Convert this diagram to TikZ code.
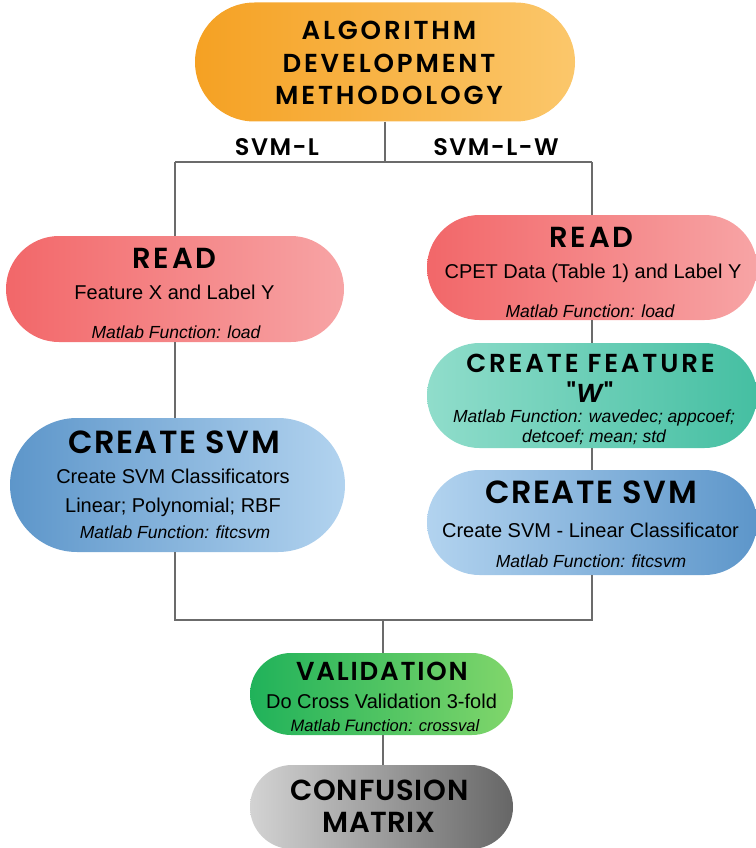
\documentclass[tikz,border=0pt]{standalone}
\usepackage{fontspec}
\setmainfont{Liberation Sans}
\newfontfamily\headfont{Poppins SemiBold}
\usetikzlibrary{shapes.misc}

\definecolor{linegray}{HTML}{6B6B6B}
\definecolor{orangeA}{HTML}{F5A123}
\definecolor{orangeB}{HTML}{FBC76B}
\definecolor{redA}{HTML}{F26769}
\definecolor{redB}{HTML}{F7A4A5}
\definecolor{tealA}{HTML}{90DDCB}
\definecolor{tealB}{HTML}{45BFA2}
\definecolor{blueA}{HTML}{5D96CA}
\definecolor{blueB}{HTML}{B2D3EF}
\definecolor{greenA}{HTML}{20B25A}
\definecolor{greenB}{HTML}{80D66B}
\definecolor{grayA}{HTML}{D3D3D3}
\definecolor{grayB}{HTML}{666666}

\tikzset{
  pill/.style={rounded rectangle,inner sep=0pt,draw=none},
  hd/.style 2 args={anchor=base,font=\headfont\fontsize{#1}{#1}\selectfont\addfontfeature{LetterSpace=#2}},
  tx/.style={anchor=base,font=\fontsize{20}{24}\selectfont},
  fn/.style={anchor=base,font=\itshape\fontsize{#1}{#1}\selectfont},
  fn/.default=17.5,
  wire/.style={draw=linegray,line width=1.1pt}
}

\begin{document}
\begin{tikzpicture}[x=1pt,y=-1pt]
\useasboundingbox (0,0) rectangle (755,848);
% boxes
\node[pill,left color=orangeA,right color=orangeB,minimum width=380,minimum height=119] (title) at (385,62) {};
\node[pill,left color=redA,right color=redB,minimum width=338,minimum height=106] (readL) at (175,289) {};
\node[pill,left color=blueA,right color=blueB,minimum width=335,minimum height=134] (svmL) at (177.5,485) {};
\node[pill,left color=redA,right color=redB,minimum width=330,minimum height=105] (readR) at (592,267.5) {};
\node[pill,left color=tealA,right color=tealB,minimum width=330,minimum height=105] (feat) at (592,395.5) {};
\node[pill,left color=blueB,right color=blueA,minimum width=330,minimum height=105] (svmR) at (592,522.5) {};
\node[pill,left color=greenA,right color=greenB,minimum width=263,minimum height=82] (valid) at (381.5,694) {};
\node[pill,left color=grayA,right color=grayB,minimum width=263,minimum height=84] (conf) at (381.5,807) {};

% texts
\node[hd={26}{11}] (title1) at (389,40) {ALGORITHM};
\node[hd={26}{11}] (title2) at (389,73) {DEVELOPMENT};
\node[hd={26}{11}] (title3) at (389,105) {METHODOLOGY};
\node[hd={24}{6}] (branchL) at (277,155) {SVM-L};
\node[hd={24}{6}] (branchR) at (496,155) {SVM-L-W};

\node[hd={29}{9.5}] (readLhd) at (174.5,268) {READ};
\node[tx] (readLtx) at (174.5,299) {Feature X and Label Y};
\node[fn] (readLfn) at (176,338) {Matlab Function: load};

\node[hd={32}{5}] (svmLhd) at (174,453) {CREATE SVM};
\node[tx] (svmLtx1) at (173,483) {Create SVM Classificators};
\node[tx] (svmLtx2) at (173,512) {Linear; Polynomial; RBF};
\node[fn] (svmLfn) at (175,538) {Matlab Function: fitcsvm};

\node[hd={29}{9.5}] (readRhd) at (591.5,247) {READ};
\node[tx] (readRtx) at (593,278) {CPET Data (Table 1) and Label Y};
\node[fn] (readRfn) at (590,317) {Matlab Function: load};

\node[hd={26}{11}] (feathd) at (590.5,372) {CREATE FEATURE};
\node[hd={26}{0}] (featw) at (590,402) {"\textit{W}"};
\node[fn] (featfn1) at (594,422) {Matlab Function: wavedec; appcoef;};
\node[fn] (featfn2) at (594,442) {detcoef; mean; std};

\node[hd={32}{5}] (svmRhd) at (591,503) {CREATE SVM};
\node[tx] (svmRtx) at (590.5,537) {Create SVM - Linear Classificator};
\node[fn] (svmRfn) at (591,567) {Matlab Function: fitcsvm};

\node[hd={26}{7}] (validhd) at (382,680) {VALIDATION};
\node[tx] (validtx) at (381.5,708) {Do Cross Validation 3-fold};
\node[fn=16.5] (validfn) at (385,731) {Matlab Function: crossval};

\node[hd={29}{3}] (conf1) at (379.5,800) {CONFUSION};
\node[hd={29}{2}] (conf2) at (379,832) {MATRIX};

% connectors
\coordinate (split) at (385,162);
\coordinate (lt) at (175,162);
\coordinate (rt) at (592,162);
\coordinate (lb) at (175,620);
\coordinate (rb) at (592,620);
\coordinate (merge) at (383,620);
\draw[wire] (title) -- (split);
\draw[wire] (lt) -- (rt);
\draw[wire] (lt) -- (readL.north -| lt);
\draw[wire] (readL.south -| lt) -- (svmL.north -| lt);
\draw[wire] (svmL.south -| lt) -- (lb) -- (rb) -- (svmR.south -| rb);
\draw[wire] (rt) -- (readR.north -| rt);
\draw[wire] (readR.south -| rt) -- (feat.north -| rt);
\draw[wire] (feat.south -| rt) -- (svmR.north -| rt);
\draw[wire] (merge) -- (valid.north -| merge);
\draw[wire] (valid.south -| merge) -- (conf.north -| merge);
\end{tikzpicture}
\end{document}
